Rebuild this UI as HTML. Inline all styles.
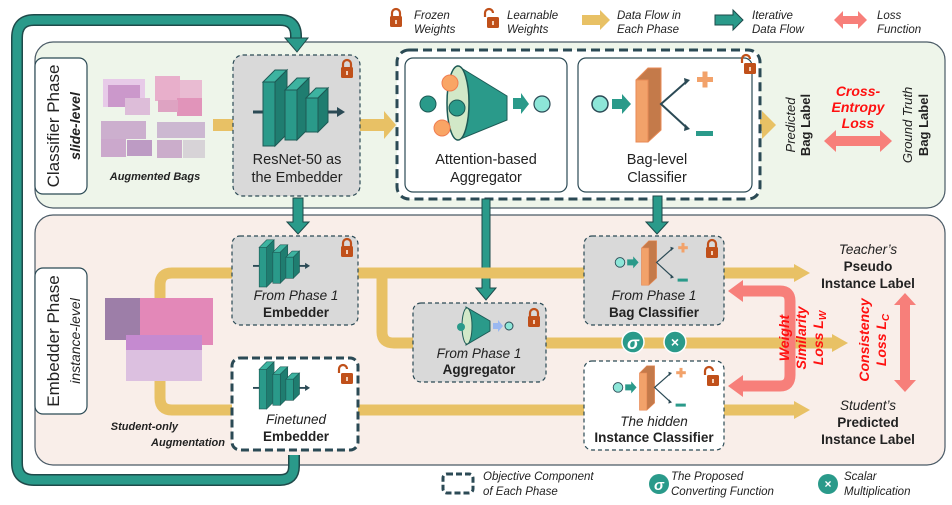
<!DOCTYPE html>
<html><head><meta charset="utf-8"><style>
body{margin:0;background:#fff}
svg{display:block}
text{font-family:"Liberation Sans",sans-serif;fill:#222}
.it{font-style:italic}
.b{font-weight:bold}
</style></head><body>
<svg width="952" height="505" viewBox="0 0 952 505" xmlns="http://www.w3.org/2000/svg">
<defs>
<g id="net">
<line x1="0" y1="45" x2="12" y2="45" stroke="#2b4a55" stroke-width="3"/>
<g stroke="#1d5a55" stroke-width="1">
<polygon points="10,15 22,3 34,3 22,15" fill="#3db3a0"/><polygon points="22,15 34,3 34,67 22,79" fill="#1f7d70"/><rect x="10" y="15" width="12" height="64" fill="#2a9a8a"/>
<polygon points="32,23 44,11 56,11 44,23" fill="#3db3a0"/><polygon points="44,23 56,11 56,61 44,73" fill="#1f7d70"/><rect x="32" y="23" width="12" height="50" fill="#2a9a8a"/>
<polygon points="53,31 63,21 75,21 65,31" fill="#3db3a0"/><polygon points="65,31 75,21 75,55 65,65" fill="#1f7d70"/><rect x="53" y="31" width="12" height="34" fill="#2a9a8a"/>
</g>
<line x1="75" y1="45" x2="86" y2="45" stroke="#2b4a55" stroke-width="3"/>
<polygon points="84,40 92,45 84,50" fill="#2b4a55"/>
</g>
<g id="cls">
<circle cx="10" cy="39" r="8" fill="#8de6d8" stroke="#2b4a55" stroke-width="1.5"/>
<polygon points="22,34 32,34 32,29 41,39 32,49 32,44 22,44" fill="#2a9a8a"/>
<polygon points="46,15 58,3 71,3 71,65 58,77 46,77" fill="#c47a4a" stroke="#e88a55"/>
<rect x="46" y="15" width="12" height="62" fill="#f2a26a" stroke="#e88a55"/>
<polyline points="96,17 71,39 96,62" fill="none" stroke="#2b4a55" stroke-width="2"/>
<polygon points="94,13 100,15 95,20" fill="#2b4a55"/><polygon points="95,59 100,64 94,66" fill="#2b4a55"/>
<rect x="107" y="12" width="16" height="5" fill="#f2a26a"/><rect x="112.5" y="6.5" width="5" height="16" fill="#f2a26a"/>
<rect x="106" y="66" width="17" height="5" fill="#2a9a8a"/>
</g>
<g id="lock"><path d="M-4,0 v-4 a4,4 0 0 1 8,0 v4" fill="none" stroke="#c0501a" stroke-width="2.2"/><rect x="-6" y="-1" width="12" height="11" rx="1.5" fill="#c0501a"/><rect x="-1" y="3" width="2" height="4" fill="#f3d0b8"/></g>
<g id="olock"><path d="M-8,-1 v-4 a4,4 0 0 1 8,0" fill="none" stroke="#c0501a" stroke-width="2.2"/><rect x="-6" y="-1" width="12" height="11" rx="1.5" fill="#c0501a"/><rect x="-1" y="3" width="2" height="4" fill="#f3d0b8"/></g>
</defs>

<!-- panels -->
<rect x="35" y="42" width="910" height="166" rx="18" fill="#eef5ea" stroke="#4a5a66" stroke-width="1.2"/>
<rect x="35" y="215" width="910" height="250" rx="18" fill="#f9eee9" stroke="#4a5a66" stroke-width="1.2"/>
<rect x="35" y="58" width="52" height="136" rx="8" fill="#fff" stroke="#2b4a55" stroke-width="1.2"/>
<rect x="35" y="268" width="52" height="146" rx="8" fill="#fff" stroke="#2b4a55" stroke-width="1.2"/>
<text transform="translate(59,126) rotate(-90)" text-anchor="middle" font-size="17">Classifier Phase</text>
<text transform="translate(80,126) rotate(-90)" text-anchor="middle" font-size="14" class="it b">slide-level</text>
<text transform="translate(59,341) rotate(-90)" text-anchor="middle" font-size="17">Embedder Phase</text>
<text transform="translate(80,341) rotate(-90)" text-anchor="middle" font-size="14" class="it">instance-level</text>

<!-- teal loop -->
<path d="M294,455 V466 Q294,480 280,480 H34 Q17,480 17,463 V38 Q17,20 34,20 H280 Q296,20 296,36 V40" fill="none" stroke="#1f4a4a" stroke-width="12"/>
<path d="M294,455 V466 Q294,480 280,480 H34 Q17,480 17,463 V38 Q17,20 34,20 H280 Q296,20 296,36 V40" fill="none" stroke="#2a9a8a" stroke-width="9"/>
<polygon points="285,38 308,38 297,52" fill="#2a9a8a" stroke="#1f4a4a"/>

<!-- images classifier -->
<g opacity="0.9">
<rect x="103" y="79" width="42" height="28" fill="#e7c6e8"/><rect x="108" y="85" width="32" height="22" fill="#c88fc8"/>
<rect x="125" y="98" width="25" height="17" fill="#dcb8d8"/>
<rect x="155" y="76" width="25" height="25" fill="#e8a8c8"/><rect x="180" y="80" width="22" height="18" fill="#e9b5d0"/><rect x="177" y="98" width="25" height="18" fill="#e08ab5"/><rect x="158" y="100" width="20" height="12" fill="#dd9bbe"/>
<rect x="101" y="121" width="45" height="18" fill="#c9a8cc"/><rect x="101" y="139" width="25" height="18" fill="#c8a0c9"/><rect x="127" y="140" width="25" height="16" fill="#b892c0"/>
<rect x="157" y="122" width="48" height="16" fill="#c9b2cf"/><rect x="157" y="140" width="25" height="18" fill="#c8a6c8"/><rect x="183" y="140" width="22" height="18" fill="#d5d0d5"/>
</g>
<text x="155" y="180" text-anchor="middle" font-size="11" class="it b">Augmented Bags</text>

<!-- yellow arrows classifier -->
<g fill="#e8c165">
<rect x="213" y="119" width="20" height="12"/>
<rect x="360" y="119" width="25" height="12"/><polygon points="384,111 396,125 384,139"/>
<rect x="568" y="119" width="12" height="12"/>
<rect x="750" y="119" width="14" height="12"/><polygon points="762,111 776,125 762,139"/>
</g>

<!-- ResNet box -->
<rect x="233" y="55" width="127" height="141" rx="10" fill="#d9d9d9" stroke="#2b4a55" stroke-width="1.2" stroke-dasharray="4,3"/>
<use href="#lock" x="347" y="68"/>
<use href="#net" transform="translate(253,67)"/>
<text x="297" y="164" text-anchor="middle" font-size="14.5">ResNet-50 as</text>
<text x="297" y="182" text-anchor="middle" font-size="14.5">the Embedder</text>

<!-- objective big -->
<rect x="397" y="50" width="363" height="149" rx="12" fill="#fff" stroke="#2b4a55" stroke-width="3" stroke-dasharray="9,5"/>
<rect x="405" y="58" width="162" height="134" rx="8" fill="#fff" stroke="#2b4a55" stroke-width="1.2"/>
<rect x="578" y="58" width="174" height="134" rx="8" fill="#fff" stroke="#2b4a55" stroke-width="1.2"/>
<use href="#olock" x="750" y="64"/>
<polygon points="458,66 507,96 507,120 458,140" fill="#2a9a8a" stroke="#1d5a55"/>
<ellipse cx="458" cy="103" rx="11" ry="37" fill="#d2e8c8" stroke="#1d5a55" stroke-width="1.5"/>
<circle cx="428" cy="104" r="8" fill="#2a9a8a" stroke="#1d5a55"/>
<circle cx="450" cy="83" r="8" fill="#f9a565" stroke="#f07d50"/>
<circle cx="457" cy="108" r="8" fill="#2a9a8a" stroke="#1d5a55"/>
<circle cx="442" cy="128" r="8" fill="#f9a565" stroke="#f07d50"/>
<polygon points="513,98 521,98 521,93 529,104 521,114 521,109 513,109" fill="#2a9a8a"/>
<circle cx="542" cy="104" r="8" fill="#8de6d8" stroke="#2b4a55" stroke-width="1.2"/>
<text x="486" y="164" text-anchor="middle" font-size="14.5">Attention-based</text>
<text x="486" y="182" text-anchor="middle" font-size="14.5">Aggregator</text>
<use href="#cls" transform="translate(590,65)"/>
<text x="657" y="164" text-anchor="middle" font-size="14.5">Bag-level</text>
<text x="657" y="182" text-anchor="middle" font-size="14.5">Classifier</text>

<!-- bag label text -->
<text transform="translate(795,125) rotate(-90)" text-anchor="middle" font-size="13"><tspan class="it">Predicted</tspan></text>
<text transform="translate(810,125) rotate(-90)" text-anchor="middle" font-size="13" class="b">Bag Label</text>
<text transform="translate(912,125) rotate(-90)" text-anchor="middle" font-size="13" class="it">Ground Truth</text>
<text transform="translate(928,125) rotate(-90)" text-anchor="middle" font-size="13" class="b">Bag Label</text>
<g font-size="14" class="it b" text-anchor="middle"><text x="858" y="96" style="fill:#ff1010">Cross-</text><text x="858" y="112" style="fill:#ff1010">Entropy</text><text x="858" y="128" style="fill:#ff1010">Loss</text></g>
<polygon points="824,141 836,130 836,136 880,136 880,130 892,141 880,152 880,146 836,146 836,152" fill="#f77f7a"/>

<!-- teal down arrows -->
<g fill="#2a9a8a" stroke="#1d4a4a">
<polygon points="293,198 303,198 303,222 309,222 298,234 287,222 293,222"/>
<polygon points="482,199 490,199 490,288 496,288 486,300 476,288 482,288"/>
<polygon points="653,196 662,196 662,222 668,222 657,234 646,222 653,222"/>
</g>

<!-- yellow embedder flows -->
<g fill="none" stroke="#e8c165" stroke-width="11">
<path d="M160,300 V285 Q160,273 172,273 H233"/>
<path d="M358,273 H795"/>
<path d="M382,273 V332 Q382,343 394,343 H413"/>
<path d="M545,343 H835"/>
<path d="M160,380 V398 Q160,410 172,410 H233"/>
<path d="M358,410 H795"/>
</g>
<g fill="#e8c165">
<polygon points="794,264 810,273 794,282"/>
<polygon points="832,334 848,343 832,352"/>
<polygon points="794,401 810,410 794,419"/>
</g>

<!-- embedder images -->
<rect x="105" y="298" width="38" height="42" fill="#9d7ea8"/>
<rect x="140" y="298" width="73" height="47" fill="#e388b8"/>
<rect x="126" y="335" width="76" height="46" fill="#c58ad0"/>
<rect x="126" y="350" width="76" height="31" fill="#dcc0e0"/>

<text x="178" y="430" text-anchor="end" font-size="11" class="it b">Student-only</text>
<text x="225" y="446" text-anchor="end" font-size="11" class="it b">Augmentation</text>

<!-- from phase 1 embedder -->
<rect x="232" y="236" width="126" height="89" rx="8" fill="#d9d9d9" stroke="#2b4a55" stroke-width="1.2" stroke-dasharray="4,3"/>
<use href="#lock" x="347" y="247"/>
<use href="#net" transform="translate(253,238) scale(0.62)"/>
<text x="296" y="300" text-anchor="middle" font-size="13.5" class="it">From Phase 1</text>
<text x="296" y="317" text-anchor="middle" font-size="13.5" class="b">Embedder</text>

<!-- finetuned embedder -->
<rect x="232" y="358" width="126" height="92" rx="8" fill="#fff" stroke="#2b4a55" stroke-width="3" stroke-dasharray="8,4"/>
<use href="#olock" x="347" y="374"/>
<use href="#net" transform="translate(253,360) scale(0.62)"/>
<text x="296" y="424" text-anchor="middle" font-size="13.5" class="it">Finetuned</text>
<text x="296" y="441" text-anchor="middle" font-size="13.5" class="b">Embedder</text>

<!-- aggregator small -->
<rect x="413" y="303" width="133" height="79" rx="8" fill="#d9d9d9" stroke="#2b4a55" stroke-width="1.2" stroke-dasharray="4,3"/>
<use href="#lock" x="534" y="317"/>
<polygon points="466,307 490,321 490,331 466,345" fill="#2a9a8a" stroke="#1d5a55"/>
<ellipse cx="467" cy="326" rx="5" ry="18" fill="#d2e8c8" stroke="#1d5a55"/>
<circle cx="461" cy="327" r="4" fill="#2a9a8a"/>
<polygon points="493,323 498,323 498,320 503,326 498,332 498,329 493,329" fill="#9ab8f0"/>
<circle cx="509" cy="326" r="4" fill="#8de6d8" stroke="#2b4a55"/>
<text x="479" y="358" text-anchor="middle" font-size="13.5" class="it">From Phase 1</text>
<text x="479" y="374" text-anchor="middle" font-size="13.5" class="b">Aggregator</text>

<!-- bag classifier small -->
<rect x="584" y="236" width="140" height="89" rx="8" fill="#d9d9d9" stroke="#2b4a55" stroke-width="1.2" stroke-dasharray="4,3"/>
<use href="#lock" x="712" y="248"/>
<use href="#cls" transform="translate(614,239) scale(0.6)"/>
<text x="654" y="300" text-anchor="middle" font-size="13.5" class="it">From Phase 1</text>
<text x="654" y="317" text-anchor="middle" font-size="13.5" class="b">Bag Classifier</text>

<!-- hidden instance classifier -->
<rect x="584" y="361" width="140" height="89" rx="8" fill="#fff" stroke="#2b4a55" stroke-width="1.2" stroke-dasharray="4,3"/>
<use href="#olock" x="713" y="376"/>
<use href="#cls" transform="translate(612,364) scale(0.6)"/>
<text x="654" y="426" text-anchor="middle" font-size="13.5" class="it">The hidden</text>
<text x="654" y="442" text-anchor="middle" font-size="13.5" class="b">Instance Classifier</text>

<!-- sigma / times -->
<circle cx="633" cy="342" r="11" fill="#2a9a8a" stroke="#fff" stroke-width="1.5"/>
<text x="633" y="349" text-anchor="middle" font-size="18" class="it b" style="fill:#fff">σ</text>
<circle cx="675" cy="342" r="11" fill="#2a9a8a" stroke="#fff" stroke-width="1.5"/>
<text x="675" y="347" text-anchor="middle" font-size="14" class="b" style="fill:#fff">×</text>

<!-- weight similarity -->
<path d="M740,291 H780 Q790,291 790,301 V375 Q790,386 780,386 H740" fill="none" stroke="#f77f7a" stroke-width="11"/>
<polygon points="743,280 728,291 743,302" fill="#f77f7a"/>
<polygon points="743,375 728,386 743,397" fill="#f77f7a"/>
<g class="it b" font-size="14" text-anchor="middle">
<text transform="translate(789,338) rotate(-90)" style="fill:#ff1010">Weight</text>
<text transform="translate(806,338) rotate(-90)" style="fill:#ff1010">Similarity</text>
<text transform="translate(823,338) rotate(-90)" style="fill:#ff1010">Loss L<tspan font-size="10" dy="3">W</tspan></text>
<text transform="translate(869,340) rotate(-90)" style="fill:#ff1010">Consistency</text>
<text transform="translate(886,340) rotate(-90)" style="fill:#ff1010">Loss L<tspan font-size="10" dy="3">C</tspan></text>
</g>
<polygon points="905,293 916,305 910,305 910,380 916,380 905,392 894,380 900,380 900,305 894,305" fill="#f77f7a"/>

<!-- instance labels -->
<g text-anchor="middle" font-size="13.5">
<text x="868" y="254" class="it">Teacher’s</text>
<text x="868" y="271" class="b">Pseudo</text>
<text x="868" y="288" class="b">Instance Label</text>
<text x="868" y="410" class="it">Student’s</text>
<text x="868" y="427" class="b">Predicted</text>
<text x="868" y="444" class="b">Instance Label</text>
</g>

<!-- top legend -->
<use href="#lock" x="396" y="17"/>
<g font-size="11.5" class="it" fill="#333">
<text x="414" y="19">Frozen</text><text x="414" y="33">Weights</text>
<text x="507" y="19">Learnable</text><text x="507" y="33">Weights</text>
<text x="617" y="19">Data Flow in</text><text x="617" y="33">Each Phase</text>
<text x="752" y="19">Iterative</text><text x="752" y="33">Data Flow</text>
<text x="877" y="19">Loss</text><text x="877" y="33">Function</text>
</g>
<use href="#olock" x="493" y="18"/>
<polygon points="582,15 600,15 600,10 610,20 600,30 600,25 582,25" fill="#e8c165"/>
<polygon points="715,15 733,15 733,10 743,20 733,30 733,25 715,25" fill="#2a9a8a" stroke="#1d4a4a"/>
<polygon points="834,20 843,11 843,16 858,16 858,11 867,20 858,29 858,24 843,24 843,29" fill="#f77f7a"/>

<!-- bottom legend -->
<rect x="443" y="474" width="30" height="19" rx="4" fill="#fff" stroke="#2b4a55" stroke-width="3" stroke-dasharray="6,3"/>
<circle cx="659" cy="484" r="10" fill="#2a9a8a"/>
<text x="659" y="490" text-anchor="middle" font-size="15" class="it b" style="fill:#fff">σ</text>
<circle cx="828" cy="484" r="10" fill="#2a9a8a"/>
<text x="828" y="488" text-anchor="middle" font-size="12" class="b" style="fill:#fff">×</text>
<g font-size="11.5" class="it">
<text x="483" y="480">Objective Component</text><text x="483" y="495">of Each Phase</text>
<text x="671" y="480">The Proposed</text><text x="671" y="495">Converting Function</text>
<text x="844" y="480">Scalar</text><text x="844" y="495">Multiplication</text>
</g>
</svg>
</body></html>
